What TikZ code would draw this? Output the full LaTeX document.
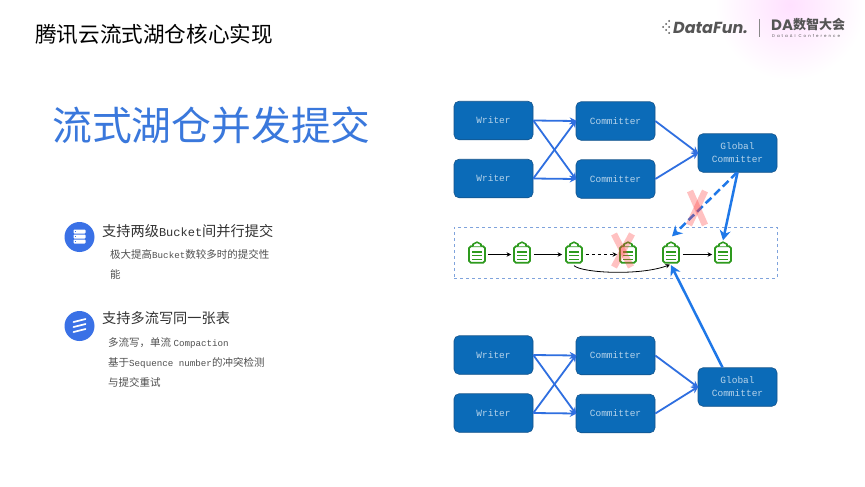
\documentclass[tikz,border=0pt]{standalone}
\usepackage{fontspec}
\setmainfont{Noto Sans CJK SC}
\newfontfamily\latmono{Liberation Mono}
\newfontfamily\logofont{Poppins}
\usetikzlibrary{arrows.meta,calc}
\definecolor{boxblue}{HTML}{0B6BB8}
\definecolor{boxedge}{HTML}{14548C}
\definecolor{linkblue}{HTML}{2F6FE0}
\definecolor{strongblue}{HTML}{1F78E8}
\definecolor{iconblue}{HTML}{3A71E6}
\definecolor{titleblue}{HTML}{3A78DC}
\definecolor{docgreen}{HTML}{2E9A1E}
\definecolor{frameblue}{HTML}{7FA3DC}
\definecolor{boxtext}{HTML}{B5D3EA}
\definecolor{inktext}{HTML}{333333}
\definecolor{softtext}{HTML}{505050}
\definecolor{logogrey}{HTML}{555555}
\tikzset{
  x=1pt,y=-1pt,
  flowbox/.style={draw=boxedge,line width=.6pt,fill=boxblue,rounded corners=5pt,minimum width=79pt,minimum height=38.5pt,inner sep=0pt,align=center,text=boxtext,font=\latmono\fontsize{9.5}{13}\selectfont},
  thin link/.style={draw=linkblue,line width=1.8pt,-{Stealth[length=7pt,width=7pt]},shorten >=-1pt},
  strong link/.style={draw=strongblue,line width=2.5pt,-{Stealth[length=10pt,width=11pt]}},
  black link/.style={draw=black,line width=.8pt,-{Stealth[length=4.5pt,width=4.5pt]}},
  docbody/.style={draw=docgreen,line width=1.8pt,fill=white,rounded corners=1.8pt,minimum width=16pt,minimum height=16.5pt,inner sep=0pt},
  docbar/.style={draw=docgreen,line width=1.6pt},
  crossmark/.style={draw=red!75!white,opacity=.32,line width=6.5pt},
  bullet/.style={circle,fill=iconblue,minimum size=30pt,inner sep=0pt},
  head/.style={anchor=west,inner sep=0pt,text=inktext,font=\fontsize{14.2}{16}\selectfont},
  body/.style={anchor=west,inner sep=0pt,text=softtext,font=\fontsize{10.5}{13}\selectfont},
}
\newcommand{\monohead}[1]{{\latmono\fontsize{12}{14}\selectfont #1}}
\newcommand{\monobody}[1]{{\latmono\fontsize{9.2}{13}\selectfont #1}}
% document icon: named body plus tab and text bars
\newcommand{\docicon}[3]{%
  \node[docbody] (#1) at (#2,#3) {};
  \draw[docbar,fill=white,line join=round] ($(#1.north)+(-4,1)$) -- ($(#1.north)+(-4,-1.2)$) -- ($(#1.north)+(0,-3.2)$) -- ($(#1.north)+(4,-1.2)$) -- ($(#1.north)+(4,1)$);
  \foreach \dy in {-2.8,1,4.8}{\draw[docbar] ($(#1.center)+(-4.8,\dy)$) -- ($(#1.center)+(4.8,\dy)$);}
}
\begin{document}
\begin{tikzpicture}
\useasboundingbox (0,0) rectangle (865,487);
\fill[white] (0,0) rectangle (865,487);
% corner glow
\begin{scope}
\clip (0,0) rectangle (865,487);
\shade[inner color=magenta!12!white,outer color=white,draw=none] (790,5) circle (75);
\end{scope}

% titles
\node[anchor=west,inner sep=0pt,text=black,font=\fontsize{21.6}{24}\selectfont] (title) at (35,34) {腾讯云流式湖仓核心实现};
\node[anchor=west,inner sep=0pt,text=titleblue,font=\fontsize{39.8}{44}\selectfont] (main) at (52,125) {流式湖仓并发提交};

% logo
\node[anchor=west,inner sep=0pt,text=logogrey,font=\logofont\bfseries\itshape\fontsize{16}{18}\selectfont] (logo) at (673,28) {DataFun.};
\foreach \lx/\ly in {663/27,666/24,666/30,669/21,669/27,669/33}{\fill[logogrey] (\lx,\ly) circle (1);}
\draw[logogrey!70!white,line width=.6pt] (759.5,19) -- (759.5,37);
\node[anchor=west,inner sep=0pt,text=logogrey,font=\logofont\bfseries\fontsize{15}{16}\selectfont] (da) at (771,25) {DA};
\node[anchor=west,inner sep=0pt,text=logogrey,font=\bfseries\fontsize{13}{14}\selectfont] (daname) at (793,25) {数智大会};
\node[anchor=west,inner sep=0pt,text=logogrey,font=\logofont\fontsize{4}{5}\selectfont] (dasub) at (772,35.5) {\addfontfeatures{LetterSpace=50}DataAI Conference};

% left bullets
\node[bullet] (b1) at (79.5,237) {};
\foreach \dy in {-5.5,-.5,4.5}{\fill[white,rounded corners=.8pt] ($(b1.center)+(-6,\dy-2)$) rectangle ($(b1.center)+(6,\dy+2)$);\fill[iconblue] ($(b1.center)+(-4.5,\dy-.6)$) rectangle ($(b1.center)+(-3.3,\dy+.6)$);}
\node[bullet] (b2) at (79.5,326) {};
\foreach \dy in {-5,0,5}{\draw[white,line width=1.7pt,line cap=round] ($(b2.center)+(-6,\dy+1)$) -- ($(b2.center)+(6,\dy-2)$);}

\node[head] (h1) at (102,231) {支持两级\monohead{Bucket}间并行提交};
\node[body] (t1) at (110,254.5) {极大提高\monobody{Bucket}数较多时的提交性};
\node[body] (t2) at (110,274.5) {能};
\node[head] (h2) at (102,318) {支持多流写同一张表};
\node[body] (t3) at (108,343.5) {多流写，单流 \monobody{Compaction}};
\node[body] (t4) at (108,363) {基于\monobody{Sequence number}的冲突检测};
\node[body] (t5) at (108,382.5) {与提交重试};

% top flow
\node[flowbox] (w1) at (493.5,120.5) {Writer};
\node[flowbox] (w2) at (493.5,178.5) {Writer};
\node[flowbox] (c1) at (615.5,121) {Committer};
\node[flowbox] (c2) at (615.5,179) {Committer};
\node[flowbox] (g1) at (737.5,153) {Global\\Committer};
% bottom flow
\node[flowbox] (w3) at (493.5,355) {Writer};
\node[flowbox] (w4) at (493.5,413) {Writer};
\node[flowbox] (c3) at (615.5,355.5) {Committer};
\node[flowbox] (c4) at (615.5,413.5) {Committer};
\node[flowbox] (g2) at (737.5,387) {Global\\Committer};

\foreach \a/\b in {w1/c1,w1/c2,w2/c1,w2/c2,w3/c3,w3/c4,w4/c3,w4/c4,c1/g1,c2/g1,c3/g2,c4/g2}{
  \draw[thin link] (\a.east) -- (\b.west);
}

% frame
\node[draw=frameblue,dashed,line width=.9pt,minimum width=323pt,minimum height=51pt,inner sep=0pt] (frame) at (615.5,252.5) {};

% documents
\docicon{d1}{477}{254.5}
\docicon{d2}{522}{254.5}
\docicon{d3}{574}{254.5}
\docicon{d4}{628}{254.5}
\docicon{d5}{671}{254.5}
\docicon{d6}{723}{254.5}

\draw[black link] (d1.east) ++(2.5,0) -- ($(d2.west)+(-2,0)$);
\draw[black link] (d2.east) ++(3,0) -- ($(d3.west)+(-3,0)$);
\draw[black link,dashed] (d3.east) ++(3,0) -- ($(d4.west)+(-2,0)$);
\draw[black link] (d5.east) ++(3,0) -- ($(d6.west)+(-2,0)$);
\draw[black link] (d3.south) ++(0,2) .. controls (582,273) and (640,276) .. ($(d5.south)+(-1,1)$);

% commit arrows
\coordinate (g1out) at (737,172.5);
\draw[strong link,dashed,dash pattern=on 8pt off 4pt] (g1out) -- ($(d5.north)+(1,-9)$);
\draw[strong link] (g1.south) -- ($(d6.north)+(0,-5)$);
\draw[strong link] (g2.north) ++(-15,0) -- ($(d5.south)+(0,1.5)$);

% crossed marks
\draw[crossmark] (690,191) -- (705,225);
\draw[crossmark] (705,191) -- (689,225);
\draw[crossmark] (614,234) -- (631,267);
\draw[crossmark] (632,234) -- (614,267);
\end{tikzpicture}
\end{document}
